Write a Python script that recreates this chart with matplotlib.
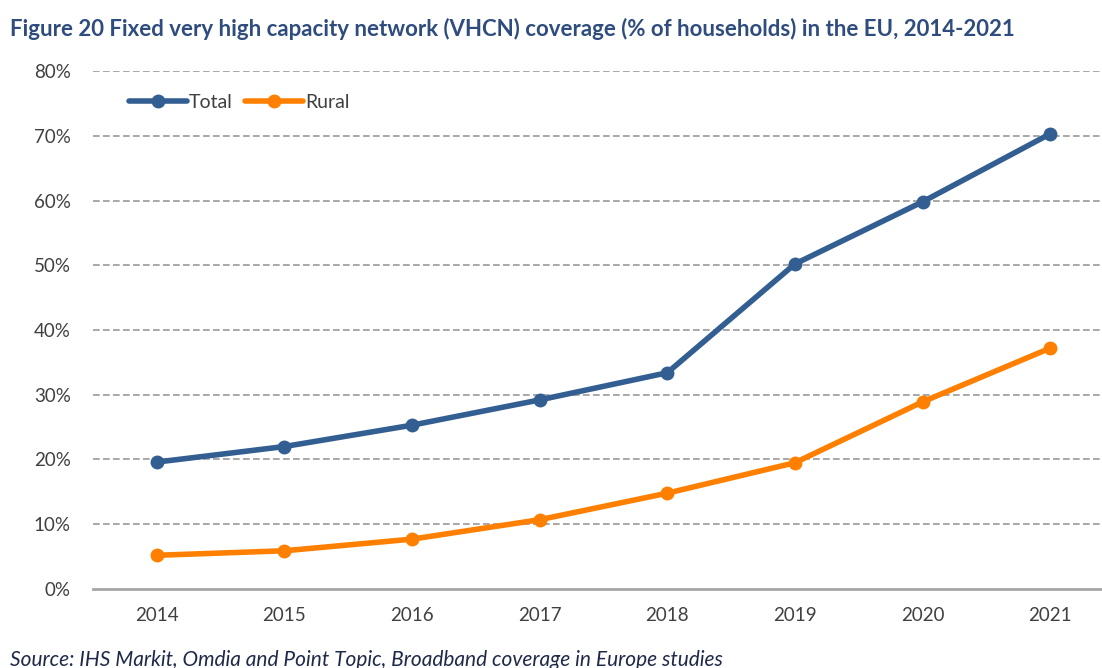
import matplotlib.pyplot as plt
from matplotlib.ticker import PercentFormatter

# coverage, % of households
years = ['2014', '2015', '2016', '2017', '2018', '2019', '2020', '2021']
total = [19.6, 22.0, 25.3, 29.2, 33.4, 50.2, 59.8, 70.3]
rural = [5.2, 5.9, 7.7, 10.7, 14.8, 19.5, 28.9, 37.2]

plt.rcParams['font.family'] = ['Lato', 'DejaVu Sans']

fig = plt.figure(figsize=(11.02, 6.68), dpi=100)
ax = fig.add_axes([0.0844, 0.1183, 0.9265, 0.7754])

x = range(len(years))
ax.plot(x, total, color='#325E92', lw=4, marker='o', ms=9, label='Total',
        solid_capstyle='round', zorder=3)
ax.plot(x, rural, color='#FF8000', lw=4, marker='o', ms=9, label='Rural',
        solid_capstyle='round', zorder=3)

ax.set_xlim(-0.5, len(years) - 0.5)
ax.set_ylim(0, 80)
ax.set_yticks(range(0, 81, 10))
ax.yaxis.set_major_formatter(PercentFormatter(decimals=0))
ax.set_xticks(list(x))
ax.set_xticklabels(years)

# dashed grid, solid base line
for v in range(10, 81, 10):
    ax.axhline(v, color='#9a9a9a', lw=1.2, ls=(0, (4, 2)), zorder=1)
for s in ['top', 'right', 'left']:
    ax.spines[s].set_visible(False)
ax.spines['bottom'].set_color('#a6a6a6')
ax.spines['bottom'].set_linewidth(2)
ax.tick_params(length=0, labelsize=13.5, colors='#404040')
ax.tick_params(axis='x', pad=13)
ax.tick_params(axis='y', pad=16)

ax.legend(loc='upper left', bbox_to_anchor=(0.018, 0.99), ncol=2, frameon=False,
          fontsize=14, handlelength=3.0, handletextpad=0.1, columnspacing=0.6,
          labelcolor='#404040')

fig.text(0.009, 0.957, 'Figure 20 Fixed very high capacity network (VHCN) coverage '
         '(% of households) in the EU, 2014-2021', fontsize=16, fontweight='bold',
         color='#2F4C7E', ha='left', va='center')
fig.text(0.009, 0.012, 'Source: IHS Markit, Omdia and Point Topic, Broadband coverage '
         'in Europe studies', fontsize=15, style='italic', color='#1F2A4A',
         ha='left', va='center')

fig.savefig('out.png', dpi=100)
